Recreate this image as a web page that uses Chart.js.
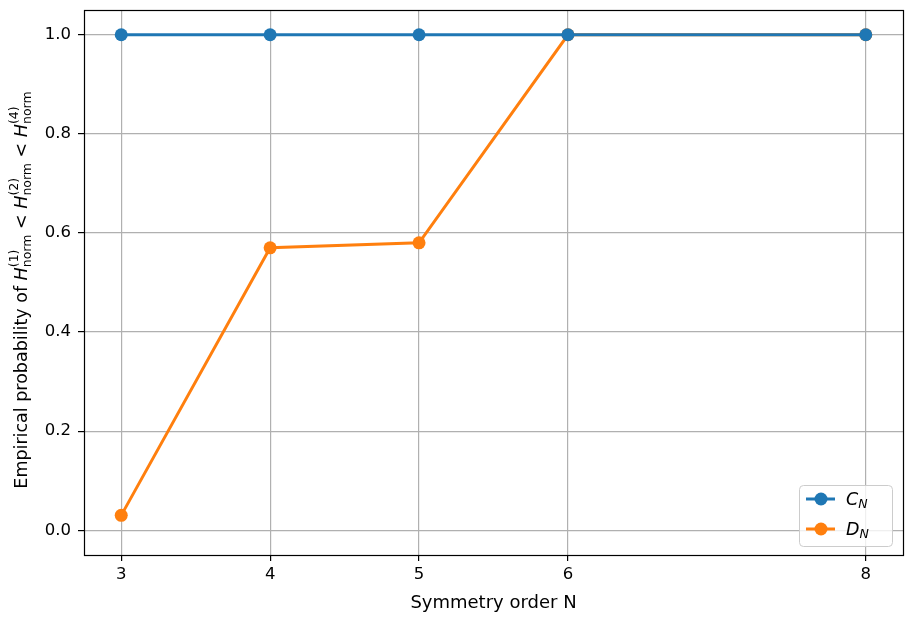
<!DOCTYPE html>
<html><head><meta charset="utf-8">
<script src="https://cdn.jsdelivr.net/npm/chart.js@4"></script>
<style>html,body{margin:0;padding:0;background:#fff}#wrap{width:911px;height:620px}</style>
</head><body><div id="wrap"><canvas id="c" width="911" height="620"></canvas></div>
<script>
const xValues = [3, 4, 5, 6, 8];
const xTicks = [3, 4, 5, 6, 8];
const cnValues = [1.0, 1.0, 1.0, 1.0, 1.0];
const dnValues = [0.03, 0.57, 0.58, 1.0, 1.0];
const yTicks = [0.0, 0.2, 0.4, 0.6, 0.8, 1.0];
const seriesNames = ['C', 'D'];
const xTitle = 'Symmetry order N';

const BLUE = '#1f77b4', ORANGE = '#ff7f0e';
const FONT = "'DejaVu Sans', sans-serif";

function drawRich(ctx, segs, x, y) {
  let cx = x;
  for (const s of segs) {
    if (s.sup !== undefined) {
      ctx.font = `${s.size}px ${FONT}`;
      const w1 = ctx.measureText(s.sup).width, w2 = ctx.measureText(s.sub).width;
      ctx.fillText(s.sup, cx, y - 9);
      ctx.fillText(s.sub, cx, y + 4);
      cx += Math.max(w1, w2);
    } else {
      ctx.font = `${s.italic ? 'italic ' : ''}${s.size}px ${FONT}`;
      ctx.fillText(s.t, cx, y + (s.dy || 0));
      cx += ctx.measureText(s.t).width;
    }
  }
  return cx - x;
}
function measureRich(ctx, segs) {
  let w = 0;
  for (const s of segs) {
    if (s.sup !== undefined) {
      ctx.font = `${s.size}px ${FONT}`;
      w += Math.max(ctx.measureText(s.sup).width, ctx.measureText(s.sub).width);
    } else {
      ctx.font = `${s.italic ? 'italic ' : ''}${s.size}px ${FONT}`;
      w += ctx.measureText(s.t).width;
    }
  }
  return w;
}

const decor = {
  id: 'decor',
  afterDraw(chart) {
    const ctx = chart.ctx, a = chart.chartArea;
    ctx.save();
    ctx.strokeStyle = '#000'; ctx.lineWidth = 1.2;
    ctx.strokeRect(Math.round(a.left) + 0.5, Math.round(a.top) + 0.5, Math.round(a.right - a.left), Math.round(a.bottom - a.top));
    const segs = [
      {t: 'Empirical probability of ', size: 17.5},
      {t: 'H', size: 17.5, italic: true},
      {sup: '(1)', sub: 'norm', size: 12.5},
      {t: ' < ', size: 17.5},
      {t: 'H', size: 17.5, italic: true},
      {sup: '(2)', sub: 'norm', size: 12.5},
      {t: ' < ', size: 17.5},
      {t: 'H', size: 17.5, italic: true},
      {sup: '(4)', sub: 'norm', size: 12.5},
    ];
    const w = measureRich(ctx, segs);
    ctx.translate(27, 290);
    ctx.rotate(-Math.PI / 2);
    ctx.fillStyle = '#000'; ctx.textBaseline = 'alphabetic'; ctx.textAlign = 'left';
    drawRich(ctx, segs, -w / 2, 0);
    ctx.restore();

    ctx.save();
    const bx = 799.5, by = 485.5, bw = 93, bh = 61, r = 4;
    ctx.beginPath();
    ctx.roundRect(bx, by, bw, bh, r);
    ctx.fillStyle = 'rgba(255,255,255,0.8)'; ctx.fill();
    ctx.strokeStyle = '#cccccc'; ctx.lineWidth = 1; ctx.stroke();
    const rows = [[BLUE, seriesNames[0], 499], [ORANGE, seriesNames[1], 529]];
    for (const [col, name, ry] of rows) {
      ctx.strokeStyle = col; ctx.lineWidth = 3;
      ctx.beginPath(); ctx.moveTo(806, ry); ctx.lineTo(835, ry); ctx.stroke();
      ctx.fillStyle = col; ctx.beginPath(); ctx.arc(821, ry, 6.5, 0, Math.PI * 2); ctx.fill();
      ctx.fillStyle = '#000'; ctx.textBaseline = 'alphabetic';
      ctx.font = `italic 17.5px ${FONT}`;
      ctx.fillText(name, 846, ry + 6);
      const nw = ctx.measureText(name).width;
      ctx.font = `italic 12.5px ${FONT}`;
      ctx.fillText('N', 846 + nw, ry + 9);
    }
    ctx.restore();
  }
};

new Chart(document.getElementById('c'), {
  type: 'line',
  data: {
    datasets: [
      {label: 'C_N', data: xValues.map((x, i) => ({x, y: cnValues[i]})), borderColor: BLUE, backgroundColor: BLUE,
       borderWidth: 3, pointRadius: 6.5, pointHoverRadius: 6.5, pointBorderWidth: 0, tension: 0},
      {label: 'D_N', data: xValues.map((x, i) => ({x, y: dnValues[i]})), borderColor: ORANGE, backgroundColor: ORANGE,
       borderWidth: 3, pointRadius: 6.5, pointHoverRadius: 6.5, pointBorderWidth: 0, tension: 0},
    ]
  },
  options: {
    responsive: false, animation: false,
    layout: {padding: {left: 0, right: 8, top: 10, bottom: 0}},
    plugins: {legend: {display: false}, tooltip: {enabled: false}},
    scales: {
      x: {
        type: 'linear', min: 2.75, max: 8.25,
        afterBuildTicks: s => { s.ticks = xTicks.map(v => ({value: v})); },
        afterFit: s => { s.height = 65; s.paddingLeft = 0; s.paddingRight = 0; },
        grid: {color: '#b0b0b0', lineWidth: 1.2, tickLength: 6, tickColor: '#000', drawTicks: true},
        border: {display: false},
        ticks: {color: '#000', font: {family: FONT, size: 16.5}, padding: 4, callback: v => String(v), maxRotation: 0},
        title: {display: true, text: xTitle, color: '#000', font: {family: FONT, size: 18}, padding: {top: 2, bottom: 6}}
      },
      y: {
        min: -0.05, max: 1.05,
        afterBuildTicks: s => { s.ticks = yTicks.map(v => ({value: v})); },
        afterFit: s => { s.width = 84; s.paddingTop = 0; s.paddingBottom = 0; },
        grid: {color: '#b0b0b0', lineWidth: 1.2, tickLength: 6, tickColor: '#000', drawTicks: true},
        border: {display: false},
        ticks: {color: '#000', font: {family: FONT, size: 16.5}, padding: 7, callback: v => v.toFixed(1)}
      }
    }
  },
  plugins: [decor]
});
</script>
</body></html>
